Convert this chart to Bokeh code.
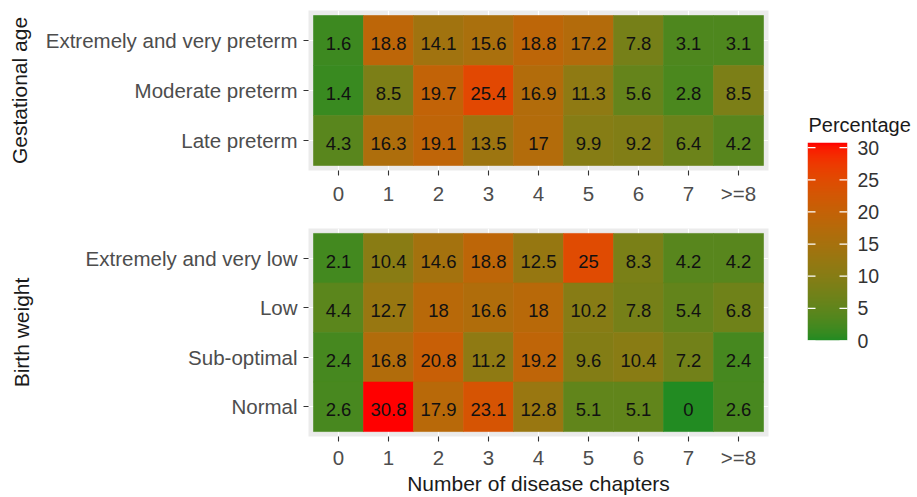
import numpy as np
from bokeh.plotting import figure
from bokeh.layouts import row, column
from bokeh.models import (ColumnDataSource, FactorRange, LinearColorMapper, FixedTicker,
                          LinearAxis, Range1d)
from bokeh.core.properties import value
from bokeh.embed import file_html
from bokeh.resources import INLINE

FONT = "Liberation Sans"

# ---------------- data ----------------
chapters = ["0", "1", "2", "3", "4", "5", "6", "7", ">=8"]

gest_rows = ["Extremely and very preterm", "Moderate preterm", "Late preterm"]
gest_extremely = [1.6, 18.8, 14.1, 15.6, 18.8, 17.2, 7.8, 3.1, 3.1]
gest_moderate = [1.4, 8.5, 19.7, 25.4, 16.9, 11.3, 5.6, 2.8, 8.5]
gest_late = [4.3, 16.3, 19.1, 13.5, 17, 9.9, 9.2, 6.4, 4.2]

bw_rows = ["Extremely and very low", "Low", "Sub-optimal", "Normal"]
bw_extremely = [2.1, 10.4, 14.6, 18.8, 12.5, 25, 8.3, 4.2, 4.2]
bw_low = [4.4, 12.7, 18, 16.6, 18, 10.2, 7.8, 5.4, 6.8]
bw_suboptimal = [2.4, 16.8, 20.8, 11.2, 19.2, 9.6, 10.4, 7.2, 2.4]
bw_normal = [2.6, 30.8, 17.9, 23.1, 12.8, 5.1, 5.1, 0, 2.6]

legend_ticks = [0, 5, 10, 15, 20, 25, 30]

gest_values = [gest_extremely, gest_moderate, gest_late]
bw_values = [bw_extremely, bw_low, bw_suboptimal, bw_normal]
vmax = max(max(r) for r in gest_values + bw_values)

# ---------------- colour palette (Lab interpolation, like ggplot) ----------------
M = np.array([[0.4124564, 0.3575761, 0.1804375],
              [0.2126729, 0.7151522, 0.0721750],
              [0.0193339, 0.1191920, 0.9503041]])
Minv = np.linalg.inv(M)
WHITE = np.array([0.95047, 1.0, 1.08883])
D = 6 / 29


def rgb2lab(rgb):
    c = np.array(rgb) / 255.0
    lin = np.where(c <= 0.04045, c / 12.92, ((c + 0.055) / 1.055) ** 2.4)
    xyz = M @ lin / WHITE
    f = np.where(xyz > D ** 3, np.cbrt(xyz), xyz / (3 * D * D) + 4 / 29)
    return np.array([116 * f[1] - 16, 500 * (f[0] - f[1]), 200 * (f[1] - f[2])])


def lab2hex(lab):
    L, a, b = lab
    fy = (L + 16) / 116
    f = np.array([fy + a / 500, fy, fy - b / 200])
    xyz = np.where(f > D, f ** 3, 3 * D * D * (f - 4 / 29)) * WHITE
    lin = np.clip(Minv @ xyz, 0, 1)
    s = np.where(lin <= 0.0031308, 12.92 * lin, 1.055 * lin ** (1 / 2.4) - 0.055)
    r, g, bb = (np.clip(np.round(s * 255), 0, 255)).astype(int)
    return "#%02x%02x%02x" % (r, g, bb)


lo, hi = rgb2lab((34, 139, 34)), rgb2lab((255, 0, 0))
palette = [lab2hex(lo + (hi - lo) * t) for t in np.linspace(0, 1, 256)]
mapper = LinearColorMapper(palette=palette, low=0, high=vmax)


def make_source(rows, values):
    xs, ys, vs, labels = [], [], [], []
    for rname, vals in zip(rows, values):
        for c, v in zip(chapters, vals):
            xs.append(c)
            ys.append(rname)
            vs.append(v)
            labels.append(format(v, "g"))
    return ColumnDataSource(dict(x=xs, y=ys, v=vs, label=labels))


def panel(rows, values, height, border_top, border_bottom, ylabel, ylabel_standoff, xlabel=None):
    p = figure(
        width=788, height=height,
        x_range=FactorRange(factors=chapters, range_padding=0.1, range_padding_units="absolute"),
        y_range=FactorRange(factors=rows[::-1], range_padding=0.1, range_padding_units="absolute"),
        output_backend="svg", toolbar_location=None,
        min_border_left=308, min_border_right=20, min_border_top=border_top,
        min_border_bottom=border_bottom,
    )
    src = make_source(rows, values)
    p.rect(x="x", y="y", width=1, height=1, source=src,
           fill_color={"field": "v", "transform": mapper},
           line_color={"field": "v", "transform": mapper}, line_width=0.6)
    p.text(x="x", y="y", text="label", source=src, text_font=value(FONT),
           text_font_size="18.5px", text_align="center", text_baseline="middle",
           text_color="#111111", y_offset=3)
    p.background_fill_color = "#EBEBEB"
    p.border_fill_color = "white"
    p.outline_line_color = None
    p.grid.grid_line_color = "white"
    p.grid.grid_line_width = 1.2
    for ax in p.axis:
        ax.axis_line_color = None
        ax.major_tick_line_color = "#333333"
        ax.major_tick_line_width = 1.1
        ax.major_tick_in = 0
        ax.major_tick_out = 5
        ax.major_label_standoff = 6
        ax.major_label_text_font = FONT
        ax.major_label_text_font_size = "20.5px"
        ax.major_label_text_color = "#4D4D4D"
        ax.axis_label_text_font = FONT
        ax.axis_label_text_font_size = "21px"
        ax.axis_label_text_font_style = "normal"
        ax.axis_label_text_color = "#1a1a1a"
    p.yaxis.axis_label = ylabel
    p.yaxis.axis_label_standoff = ylabel_standoff
    if xlabel:
        p.xaxis.axis_label = xlabel
        p.xaxis.axis_label_standoff = 0
        p.xaxis.major_label_standoff = 4
    return p


p1 = panel(gest_rows, gest_values, 228, 10, 58, "Gestational age", 12)
p2 = panel(bw_rows, bw_values, 269, 0, 59, "Birth weight", 50, "Number of disease chapters")

# ---------------- legend (colour bar drawn from the colour mapper) ----------------
p3 = figure(width=129, height=497, output_backend="svg", toolbar_location=None,
            x_range=Range1d(0, 1), y_range=Range1d(0, vmax),
            x_axis_location=None, y_axis_location=None,
            min_border_left=19, min_border_right=70, min_border_top=142, min_border_bottom=157)
p3.grid.visible = False
p3.outline_line_color = None
p3.background_fill_color = "white"
p3.border_fill_color = "white"
p3.title.text = "Percentage"
p3.title.align = "left"
p3.title.offset = 1
p3.title.standoff = 13
p3.title.text_font = FONT
p3.title.text_font_size = "20px"
p3.title.text_font_style = "normal"
p3.title.text_color = "#1a1a1a"
grad = np.linspace(0, vmax, 300).reshape(-1, 1)
p3.image(image=[grad], x=0, y=0, dw=1, dh=vmax, color_mapper=mapper)
p3.segment(x0=[0] * len(legend_ticks), x1=[0.2] * len(legend_ticks), y0=legend_ticks,
           y1=legend_ticks, line_color="white", line_width=1.2)
p3.segment(x0=[0.8] * len(legend_ticks), x1=[1] * len(legend_ticks), y0=legend_ticks,
           y1=legend_ticks, line_color="white", line_width=1.2)
lax = LinearAxis(ticker=FixedTicker(ticks=legend_ticks))
lax.axis_line_color = None
lax.major_tick_line_color = None
lax.minor_tick_line_color = None
lax.major_tick_out = 0
lax.major_tick_in = 0
lax.major_label_standoff = 10
lax.major_label_text_font = FONT
lax.major_label_text_font_size = "19.5px"
lax.major_label_text_color = "#333333"
p3.add_layout(lax, "right")

layout = row(column(p1, p2), p3)
open("out.html", "w").write(file_html(layout, INLINE))
